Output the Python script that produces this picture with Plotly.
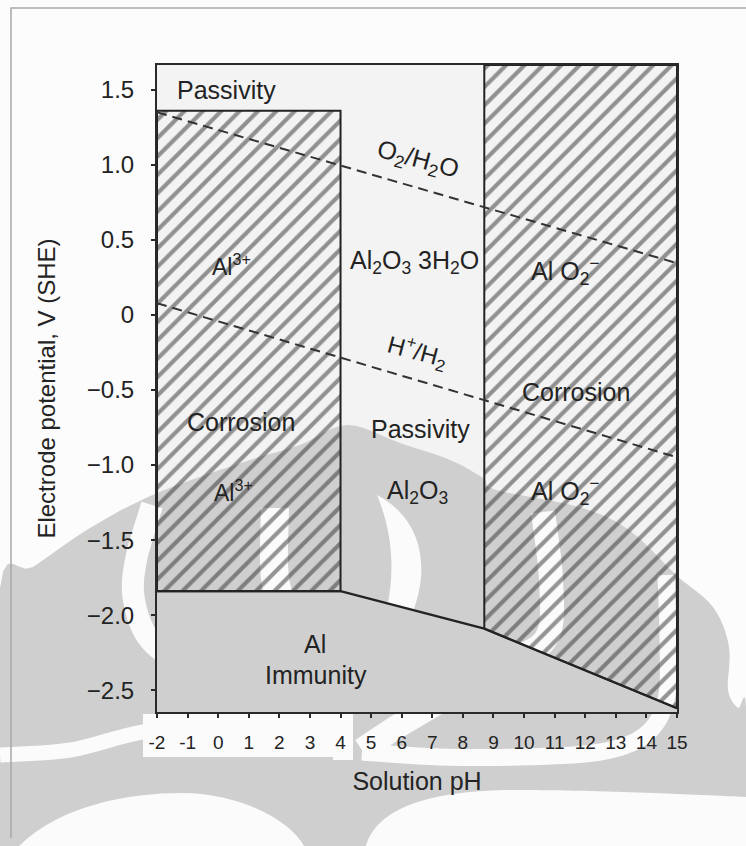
import base64
import plotly.graph_objects as go

# ---- Pourbaix (E-pH) diagram for aluminium ----
ph_min, ph_max = -2, 15
e_min, e_max = -2.645, 1.665

# Al3+ corrosion field (acid side)
al3_ph = [-2, 4, 4, -2, -2]
al3_e = [-1.84, -1.84, 1.36, 1.36, -1.84]

# AlO2- corrosion field (alkaline side)
alo2_ph = [8.7, 15, 15, 8.7, 8.7]
alo2_e = [-2.09, -2.62, 1.665, 1.665, -2.09]

# upper limit of the Al immunity field
immunity_ph = [-2, 4, 8.7, 15]
immunity_e = [-1.84, -1.84, -2.09, -2.62]

# water stability lines
o2_ph = [-2, 15]
o2_e = [1.35, 0.345]
h2_ph = [-2, 15]
h2_e = [0.078, -0.948]

x_ticks = list(range(-2, 16))
y_ticks = [1.5, 1.0, 0.5, 0, -0.5, -1.0, -1.5, -2.0, -2.5]
y_tick_text = ["1.5", "1.0", "0.5", "0", "\u22120.5", "\u22121.0", "\u22121.5", "\u22122.0", "\u22122.5"]

# field labels: (pH, E, text, angle, size)
labels = [
    (0.26, 1.50, "Passivity", 0, 25),
    (6.50, 1.03, "O<sub>2</sub>/H<sub>2</sub>O", 15, 25),
    (0.45, 0.33, "Al<sup>3+</sup>", 0, 23),
    (6.43, 0.35, "Al<sub>2</sub>O<sub>3</sub> 3H<sub>2</sub>O", 0, 25),
    (11.37, 0.29, "Al O<sub>2</sub><sup>\u2212</sup>", 0, 25),
    (6.53, -0.25, "H<sup>+</sup>/H<sub>2</sub>", 15, 24),
    (0.75, -0.715, "Corrosion", 0, 25),
    (6.60, -0.76, "Passivity", 0, 25),
    (11.70, -0.51, "Corrosion", 0, 25),
    (0.49, -1.175, "Al<sup>3+</sup>", 0, 23),
    (6.53, -1.18, "Al<sub>2</sub>O<sub>3</sub>", 0, 25),
    (11.34, -1.17, "Al O<sub>2</sub><sup>\u2212</sup>", 0, 25),
    (3.17, -2.19, "Al", 0, 25),
    (3.20, -2.40, "Immunity", 0, 25),
]

FONT = "Liberation Sans, Arial, sans-serif"
INK = "#232323"

W, H = 746, 846
ML, MR, MT, MB = 157, 69, 65, 134
PW, PH = W - ML - MR, H - MT - MB


def smooth(pts, n=8):
    # Catmull-Rom resampling for soft outlines
    res = []
    ext = [pts[0]] + pts + [pts[-1]]
    for i in range(1, len(ext) - 2):
        p0, p1, p2, p3 = ext[i - 1], ext[i], ext[i + 1], ext[i + 2]
        for k in range(n):
            t = k / n
            t2, t3 = t * t, t * t * t
            x = 0.5 * ((2 * p1[0]) + (-p0[0] + p2[0]) * t + (2 * p0[0] - 5 * p1[0] + 4 * p2[0] - p3[0]) * t2 + (-p0[0] + 3 * p1[0] - 3 * p2[0] + p3[0]) * t3)
            y = 0.5 * ((2 * p1[1]) + (-p0[1] + p2[1]) * t + (2 * p0[1] - 5 * p1[1] + 4 * p2[1] - p3[1]) * t2 + (-p0[1] + 3 * p1[1] - 3 * p2[1] + p3[1]) * t3)
            res.append((x, y))
    res.append(pts[-1])
    return res


def pts_d(pts, close=False):
    d = "M" + " L".join(f"{x:.1f} {y:.1f}" for x, y in pts)
    return d + (" Z" if close else "")


EMBLEM = "#cfcfcf"
PAPER = "#fcfcfc"
GAP = "#fbfbfb"

# ---- page backdrop: interior tint, faint emblem, frame lines (SVG image) ----
dome = [(0, 846), (0, 588), (33, 567), (90, 528), (157, 493), (250, 460), (300, 445),
        (347, 425), (400, 443), (450, 460), (483, 478), (496, 490), (579, 507),
        (629, 530), (676, 575), (713, 607), (729, 647), (728, 690), (738, 708),
        (746, 706), (746, 846)]
bands = [
    ([(152, 505), (136, 560), (134, 600), (150, 640), (190, 668), (240, 690), (290, 708), (320, 722)], 22),
    ([(275, 508), (276, 585), (300, 625), (318, 648)], 28),
    ([(543, 512), (551, 580), (548, 635), (515, 660), (460, 690), (400, 725), (362, 750)], 24),
    ([(666, 575), (668, 640), (666, 700), (645, 735), (600, 752), (520, 757), (440, 757), (362, 752)], 17),
    ([(0, 755), (70, 750), (143, 732), (200, 730)], 15),
]
gap_polys = [
    [(143, 714), (333, 714), (333, 757), (143, 757)],
    [(333, 680), (353, 680), (353, 760), (333, 760)],
]
gap_curves = [
    "M377 495 C425 520 440 580 392 652 L372 652 C396 600 398 545 377 495 Z",
    "M19 846 C60 805 130 793 181 793 C240 793 290 820 304 846 Z",
    "M366 846 C380 800 450 790 520 790 C600 790 700 795 746 797 L746 846 Z",
]

parts = [f'<svg xmlns="http://www.w3.org/2000/svg" width="{W}" height="{H}" viewBox="0 0 {W} {H}">',
         f'<rect x="0" y="0" width="{W}" height="{H}" fill="{PAPER}"/>',
         f'<rect x="{ML}" y="{MT}" width="{PW}" height="{PH}" fill="#f3f3f3"/>',
         f'<path d="{pts_d(smooth(dome, 6), True)}" fill="{EMBLEM}"/>']
for pts, w in bands:
    parts.append(f'<path d="{pts_d(smooth(pts, 8))}" fill="none" stroke="{GAP}" stroke-width="{w}"/>')
for pts in gap_polys:
    parts.append(f'<path d="{pts_d(pts, True)}" fill="{GAP}"/>')
for d in gap_curves:
    parts.append(f'<path d="{d}" fill="{GAP}"/>')
parts.append('<path d="M11 838 L11 8 L746 8" fill="none" stroke="#a8a8a8" stroke-width="1.5"/>')
parts.append('</svg>')
backdrop = "data:image/svg+xml;base64," + base64.b64encode("".join(parts).encode()).decode()

fig = go.Figure()

hatch = dict(shape="/", size=13, solidity=0.32, fgcolor="#2e2e2e", bgcolor="rgba(0,0,0,0)")

# immunity field shading, bounded by its upper limit and the bottom of the E axis
fig.add_trace(go.Scatter(x=immunity_ph + [ph_max, ph_min], y=immunity_e + [e_min, e_min],
                         mode="lines", fill="toself", fillcolor=EMBLEM,
                         line=dict(width=0, color=EMBLEM), hoverinfo="skip", showlegend=False))
fig.add_trace(go.Scatter(x=al3_ph, y=al3_e, mode="lines", fill="toself",
                         fillcolor="rgba(0,0,0,0)", fillpattern=hatch,
                         line=dict(color=INK, width=2), hoverinfo="skip", showlegend=False))
fig.add_trace(go.Scatter(x=alo2_ph, y=alo2_e, mode="lines", fill="toself",
                         fillcolor="rgba(0,0,0,0)", fillpattern=hatch,
                         line=dict(color=INK, width=2), hoverinfo="skip", showlegend=False))
fig.add_trace(go.Scatter(x=immunity_ph, y=immunity_e, mode="lines",
                         line=dict(color=INK, width=2.4), hoverinfo="skip", showlegend=False))
fig.add_trace(go.Scatter(x=o2_ph, y=o2_e, mode="lines",
                         line=dict(color="#333333", width=2, dash="10px,6px"), hoverinfo="skip", showlegend=False))
fig.add_trace(go.Scatter(x=h2_ph, y=h2_e, mode="lines",
                         line=dict(color="#333333", width=2, dash="10px,6px"), hoverinfo="skip", showlegend=False))

annotations = []
for px, ev, txt, ang, sz in labels:
    annotations.append(dict(x=px, y=ev, xref="x", yref="y", text=txt, showarrow=False,
                            textangle=ang, font=dict(family=FONT, size=sz, color=INK),
                            xanchor="center", yanchor="middle"))

fig.update_layout(
    width=W, height=H,
    margin=dict(l=ML, r=MR, t=MT, b=MB, pad=0),
    paper_bgcolor=PAPER,
    plot_bgcolor="rgba(0,0,0,0)",
    images=[dict(source=backdrop, xref="paper", yref="paper",
                 x=-ML / PW, y=1 + MT / PH, sizex=W / PW, sizey=H / PH,
                 xanchor="left", yanchor="top", sizing="stretch", layer="below")],
    annotations=annotations,
    showlegend=False,
    font=dict(family=FONT, color=INK),
)

fig.update_xaxes(range=[ph_min, ph_max], tickvals=x_ticks, ticktext=[str(v) for v in x_ticks],
                 showgrid=False, zeroline=False, showline=True, mirror=True,
                 linecolor="#2a2a2a", linewidth=2, ticks="outside", ticklen=4, tickwidth=2,
                 tickcolor="#2a2a2a", tickfont=dict(family=FONT, size=19, color=INK),
                 ticklabelstandoff=8, fixedrange=True, automargin=False,
                 title=dict(text="Solution pH", font=dict(family=FONT, size=25, color=INK), standoff=21))
fig.update_yaxes(range=[e_min, e_max], tickvals=y_ticks, ticktext=y_tick_text,
                 showgrid=False, zeroline=False, showline=True, mirror=True,
                 linecolor="#2a2a2a", linewidth=2, ticks="outside", ticklen=4, tickwidth=2,
                 tickcolor="#2a2a2a", tickfont=dict(family=FONT, size=24, color=INK),
                 ticklabelstandoff=12, fixedrange=True, automargin=False,
                 title=dict(text="Electrode potential, V (SHE)", font=dict(family=FONT, size=24, color=INK),
                            standoff=24))

fig.write_html("out.html", include_plotlyjs=True, config={"displayModeBar": False})
